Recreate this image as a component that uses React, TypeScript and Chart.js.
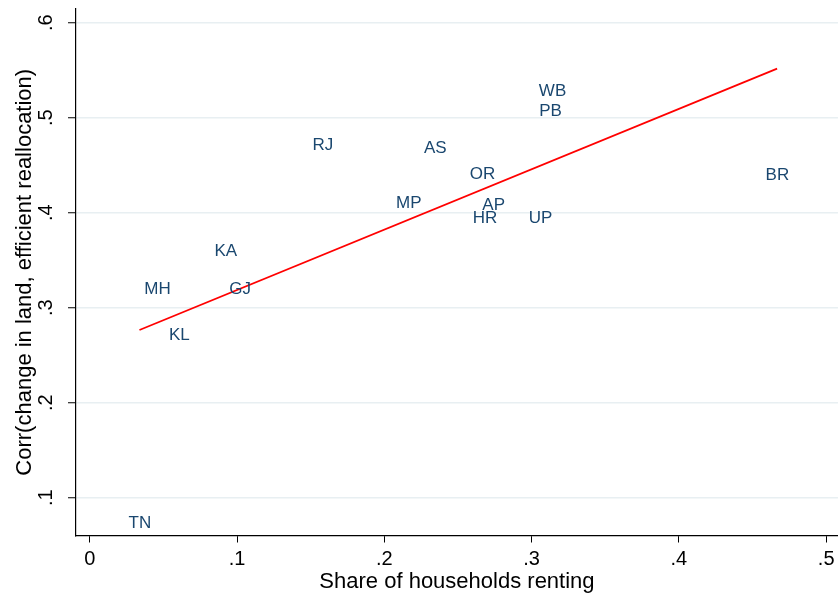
import React, { useEffect, useRef } from "react";
import { Chart, registerables } from "chart.js";

Chart.register(...registerables);

const states = ["TN", "KL", "MH", "GJ", "KA", "RJ", "MP", "AS", "OR", "AP", "HR", "UP", "PB", "WB", "BR"];
const shareRenting = [0.034, 0.0608, 0.0459, 0.1021, 0.0923, 0.1583, 0.2166, 0.2346, 0.2667, 0.2742, 0.2684, 0.306, 0.3128, 0.3142, 0.4669];
const corrReallocation = [0.075, 0.273, 0.321, 0.321, 0.361, 0.472, 0.411, 0.469, 0.442, 0.409, 0.396, 0.396, 0.508, 0.529, 0.441];

const fitX = [0.0337, 0.4667];
const fitY = [0.2765, 0.5516];

const xTickValues = [0, 0.1, 0.2, 0.3, 0.4, 0.5];
const xTickLabels = ["0", ".1", ".2", ".3", ".4", ".5"];
const yTickValues = [0.1, 0.2, 0.3, 0.4, 0.5, 0.6];
const yTickLabels = [".1", ".2", ".3", ".4", ".5", ".6"];

const xTitle = "Share of households renting";
const yTitle = "Corr(change in land, efficient reallocation)";

const FONT = "'Liberation Sans', Arial, Helvetica, sans-serif";
const LABEL_COLOR = "#1a476f";

const pointLabelPlugin = {
  id: "pointLabels",
  afterDatasetsDraw(chart: any) {
    const meta = chart.getDatasetMeta(0);
    const ctx = chart.ctx;
    ctx.save();
    ctx.font = `17px ${FONT}`;
    ctx.fillStyle = LABEL_COLOR;
    ctx.textAlign = "center";
    ctx.textBaseline = "middle";
    meta.data.forEach((el: any, i: number) => {
      ctx.fillText(states[i], el.x, el.y + 1.5);
    });
    ctx.restore();
  },
};

const yTickPlugin = {
  id: "rotatedYTicks",
  afterDraw(chart: any) {
    const scale = chart.scales.y;
    const ctx = chart.ctx;
    ctx.save();
    ctx.font = `20px ${FONT}`;
    ctx.fillStyle = "#000";
    ctx.textAlign = "center";
    ctx.textBaseline = "middle";
    scale.ticks.forEach((t: any) => {
      const idx = yTickValues.indexOf(t.value);
      const y = scale.getPixelForValue(t.value);
      ctx.save();
      ctx.translate(46, y);
      ctx.rotate(-Math.PI / 2);
      ctx.fillText(idx >= 0 ? yTickLabels[idx] : String(t.value), 0, 0);
      ctx.restore();
    });
    ctx.restore();
  },
};

export default function App() {
  const canvasRef = useRef<HTMLCanvasElement | null>(null);

  useEffect(() => {
    if (!canvasRef.current) return;
    const chart = new Chart(canvasRef.current, {
      type: "scatter",
      data: {
        datasets: [
          {
            label: "states",
            data: shareRenting.map((x, i) => ({ x, y: corrReallocation[i] })),
            pointRadius: 0,
            pointHoverRadius: 0,
            showLine: false,
          },
          {
            type: "line",
            label: "fit",
            data: fitX.map((x, i) => ({ x, y: fitY[i] })),
            borderColor: "#ff0000",
            borderWidth: 1.8,
            pointRadius: 0,
            fill: false,
            tension: 0,
          } as any,
        ],
      },
      options: {
        animation: false,
        responsive: false,
        maintainAspectRatio: false,
        events: [],
        layout: { padding: { left: 0, right: 0, top: 9, bottom: 0 } },
        plugins: {
          legend: { display: false },
          tooltip: { enabled: false },
          title: { display: false },
        },
        scales: {
          x: {
            type: "linear",
            min: -0.0094,
            max: 0.508,
            afterBuildTicks: (scale: any) => {
              scale.ticks = xTickValues.map((v) => ({ value: v }));
            },
            afterFit: (scale: any) => {
              scale.height = 62.5;
            },
            ticks: {
              font: { family: FONT, size: 20 },
              color: "#000",
              padding: 4.5,
              maxRotation: 0,
              autoSkip: false,
              callback: (v: any) => {
                const idx = xTickValues.findIndex((t) => Math.abs(t - v) < 1e-9);
                return idx >= 0 ? xTickLabels[idx] : "";
              },
            },
            grid: {
              drawOnChartArea: false,
              drawTicks: true,
              tickLength: 7,
              tickColor: "#000",
              tickWidth: 1,
            },
            border: { display: true, color: "#000", width: 1.2 },
            title: {
              display: true,
              text: xTitle,
              color: "#000",
              font: { family: FONT, size: 22 },
              padding: { top: 0, bottom: 3 },
            },
          },
          y: {
            type: "linear",
            min: 0.0602,
            max: 0.6144,
            afterBuildTicks: (scale: any) => {
              scale.ticks = yTickValues.map((v) => ({ value: v }));
            },
            afterFit: (scale: any) => {
              scale.width = 76;
            },
            ticks: { display: false },
            grid: {
              color: "#e8eff2",
              lineWidth: 1.5,
              drawTicks: true,
              tickLength: 8,
              tickColor: "#000",
              tickWidth: 1,
            },
            border: { display: true, color: "#000", width: 1.2 },
            title: {
              display: true,
              text: yTitle,
              color: "#000",
              font: { family: FONT, size: 22 },
              padding: { top: 12, bottom: 0 },
            },
          },
        },
      },
      plugins: [pointLabelPlugin, yTickPlugin],
    });
    return () => chart.destroy();
  }, []);

  return (
    <div style={{ position: "fixed", left: 0, top: 0, width: 839, height: 598, background: "#fff" }}>
      <canvas ref={canvasRef} width={839} height={598} style={{ width: 839, height: 598, display: "block" }} />
    </div>
  );
}
